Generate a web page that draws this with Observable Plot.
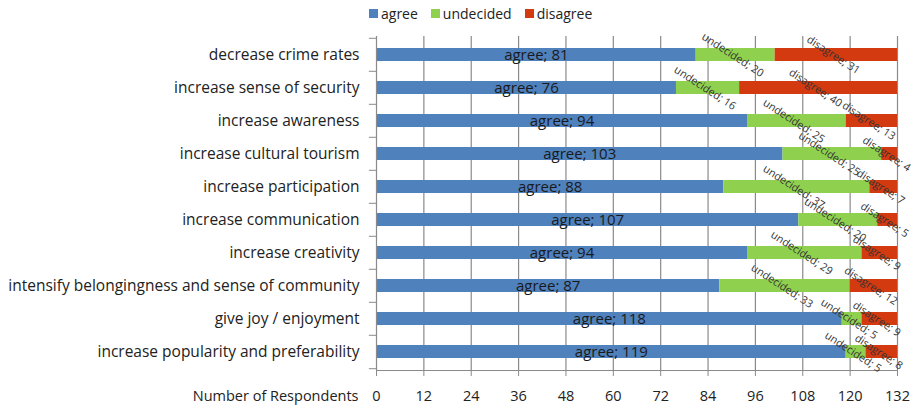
<!DOCTYPE html>
<html><head><meta charset="utf-8">
<script src="https://cdn.jsdelivr.net/npm/d3@7"></script>
<script src="https://cdn.jsdelivr.net/npm/@observablehq/plot@0.6"></script>
<style>
body{margin:0;background:#fff;font-family:"Open Sans",sans-serif;}
#wrap{position:relative;width:915px;height:408px;overflow:hidden;}
#legend{position:absolute;top:4px;left:369px;display:flex;gap:13px;font-size:14px;color:#222;}
#legend span{display:flex;align-items:center;}
#legend i{display:inline-block;width:9px;height:9px;margin-right:3px;}
svg{overflow:visible;}
</style></head>
<body><div id="wrap"><div id="legend"></div><div id="chart"></div></div>
<script>
const categories = ["decrease crime rates","increase sense of security","increase awareness","increase cultural tourism","increase participation","increase communication","increase creativity","intensify belongingness and sense of community","give joy / enjoyment","increase popularity and preferability"];
const agree = [81,76,94,103,88,107,94,87,118,119];
const undecided = [20,16,25,25,37,20,29,33,5,5];
const disagree = [31,40,13,4,7,5,9,12,9,8];
const seriesNames = ["agree","undecided","disagree"];
const seriesColors = ["#4F81BD","#8FD14F","#D33A10"];
const xTicks = [0,12,24,36,48,60,72,84,96,108,120,132];

const rows = [];
categories.forEach((c,i)=>{
  const vals=[agree[i],undecided[i],disagree[i]];
  let s=0;
  vals.forEach((v,k)=>{rows.push({cat:c,series:seriesNames[k],x1:s,x2:s+v,mid:s+v/2,label:seriesNames[k]+"; "+v});s+=v;});
});
const H=408, mt=36, mb=38;
const step=(H-mt-mb)/categories.length;

const leg=document.getElementById("legend");
seriesNames.forEach((n,k)=>{const s=document.createElement("span");s.innerHTML=`<i style="background:${seriesColors[k]}"></i>${n}`;leg.appendChild(s);});

const chart = Plot.plot({
  width:915,height:H,marginTop:mt,marginBottom:mb,marginLeft:376,marginRight:18,
  style:{fontFamily:"'Open Sans', sans-serif",fontSize:"14px",color:"#222",background:"#fff",overflow:"visible"},
  x:{domain:[0,132],ticks:xTicks,label:null},
  y:{domain:categories,padding:0,label:null},
  color:{domain:seriesNames,range:seriesColors},
  marks:[
    Plot.ruleX(xTicks.slice(1),{stroke:"#8a8a8a",strokeWidth:1.2}),
    Plot.barX(rows,{y:"cat",x1:"x1",x2:"x2",fill:"series",insetTop:10,insetBottom:10}),
    Plot.ruleX([0],{stroke:"#8a8a8a",strokeWidth:1.2}),
    Plot.frame({anchor:"bottom",stroke:"#8a8a8a"}),
    Plot.ruleY(categories,{y:d=>d,x1:-1.8,x2:0,dy:-step/2,stroke:"#8a8a8a"}),
    Plot.ruleY(categories.slice(-1),{y:d=>d,x1:-1.8,x2:0,dy:step/2,stroke:"#8a8a8a"}),
    Plot.axisX({ticks:xTicks,tickSize:6,tickPadding:14,stroke:"#8a8a8a",fontSize:14.5,fill:"#222",label:null}),
    Plot.axisY({tickSize:0,tickPadding:17,fontSize:15.5,fill:"#222",label:null}),
    Plot.text(["Number of Respondents"],{x:[0],frameAnchor:"bottom",dy:30,dx:-18,textAnchor:"end",fontSize:14.5,fill:"#222"}),
    Plot.text(rows.filter(d=>d.series==="agree"),{x:"mid",y:"cat",text:"label",fontSize:15,fill:"#1a1a1a"}),
    Plot.text(rows.filter(d=>d.series!=="agree"),{x:"mid",y:"cat",text:"label",rotate:33,fontSize:10.8,dx:-3,fill:"#333"})
  ]
});
document.getElementById("chart").appendChild(chart);
</script></body></html>
